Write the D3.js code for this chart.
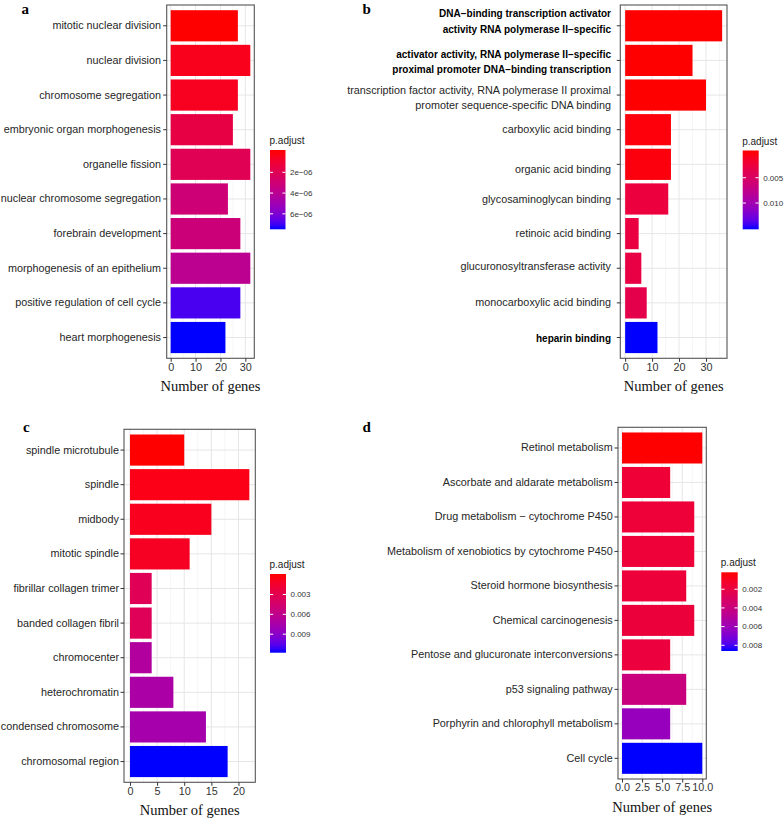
<!DOCTYPE html>
<html>
<head>
<meta charset="utf-8">
<script src="https://cdn.jsdelivr.net/npm/d3@7"></script>
<style>
body { margin: 0; background: #fff; }
svg { display: block; }
</style>
</head>
<body>
<div id="graphics"></div>
<script>
var width = 784, height = 821;

// a - biological process
var termsA = ['mitotic nuclear division', 'nuclear division', 'chromosome segregation',
  'embryonic organ morphogenesis', 'organelle fission', 'nuclear chromosome segregation',
  'forebrain development', 'morphogenesis of an epithelium', 'positive regulation of cell cycle',
  'heart morphogenesis'];
var countsA = [27, 32, 27, 25, 32, 23, 28, 32, 28, 22];
var padjA = [4.0e-8, 4.6e-7, 5.2e-7, 1.55e-6, 2.0e-6, 3.1e-6, 3.2e-6, 3.9e-6, 6.9e-6, 7.3e-6];
var ticksA = [0, 10, 20, 30];
var tickLabelsA = ['0', '10', '20', '30'];
var legendTicksA = [2e-6, 4e-6, 6e-6];
var legendLabelsA = ['2e\u221206', '4e\u221206', '6e\u221206'];

// b - molecular function
var termsB = ['DNA\u2212binding transcription activator\nactivity RNA polymerase II\u2212specific',
  'activator activity, RNA polymerase II\u2212specific\nproximal promoter DNA\u2212binding transcription',
  'transcription factor activity, RNA polymerase II proximal\npromoter sequence-specific DNA binding',
  'carboxylic acid binding', 'organic acid binding', 'glycosaminoglycan binding',
  'retinoic acid binding', 'glucuronosyltransferase activity', 'monocarboxylic acid binding',
  'heparin binding'];
var countsB = [36, 25, 30, 17, 17, 16, 5, 6, 8, 12];
var padjB = [1e-5, 2e-5, 3e-5, 3.0e-4, 3.2e-4, 2.6e-3, 2.8e-3, 3.0e-3, 3.5e-3, 1.48e-2];
var ticksB = [0, 10, 20, 30];
var tickLabelsB = ['0', '10', '20', '30'];
var legendTicksB = [0.005, 0.010];
var legendLabelsB = ['0.005', '0.010'];

// c - cellular component
var termsC = ['spindle microtubule', 'spindle', 'midbody', 'mitotic spindle',
  'fibrillar collagen trimer', 'banded collagen fibril', 'chromocenter', 'heterochromatin',
  'condensed chromosome', 'chromosomal region'];
var countsC = [10, 22, 15, 11, 4, 4, 4, 8, 14, 18];
var padjC = [2.0e-4, 6.5e-4, 9.0e-4, 1.1e-3, 3.3e-3, 3.4e-3, 6.9e-3, 7.3e-3, 7.6e-3, 1.15e-2];
var ticksC = [0, 5, 10, 15, 20];
var tickLabelsC = ['0', '5', '10', '15', '20'];
var legendTicksC = [0.003, 0.006, 0.009];
var legendLabelsC = ['0.003', '0.006', '0.009'];

// d - KEGG
var termsD = ['Retinol metabolism', 'Ascorbate and aldarate metabolism',
  'Drug metabolism \u2212 cytochrome P450', 'Metabolism of xenobiotics by cytochrome P450',
  'Steroid hormone biosynthesis', 'Chemical carcinogenesis',
  'Pentose and glucuronate interconversions', 'p53 signaling pathway',
  'Porphyrin and chlorophyll metabolism', 'Cell cycle'];
var countsD = [10, 6, 9, 9, 8, 9, 6, 8, 6, 10];
var padjD = [4.0e-4, 1.6e-3, 1.65e-3, 1.65e-3, 1.7e-3, 1.75e-3, 1.8e-3, 4.0e-3, 6.2e-3, 8.4e-3];
var ticksD = [0, 2.5, 5, 7.5, 10];
var tickLabelsD = ['0.0', '2.5', '5.0', '7.5', '10.0'];
var legendTicksD = [0.002, 0.004, 0.006, 0.008];
var legendLabelsD = ['0.002', '0.004', '0.006', '0.008'];

var sans = '"Liberation Sans", Arial, Helvetica, sans-serif';
var serif = '"Liberation Serif", "Times New Roman", Times, serif';

var svg = d3.select('#graphics')
  .append('svg')
  .attr('width', width)
  .attr('height', height)
  .style('font-family', sans);

var defs = svg.append('defs');

function drawPanel(p) {
  var g = svg.append('g');
  var n = p.terms.length;
  var maxCount = d3.max(p.counts);

  var x = d3.scaleLinear()
    .domain([-0.05 * maxCount, 1.05 * maxCount])
    .range([p.x0, p.x1]);
  var y = d3.scaleBand()
    .domain(d3.range(n))
    .range([p.y0, p.y1])
    .paddingInner(0.1)
    .paddingOuter(0.15);
  var color = d3.scaleLinear()
    .domain(d3.extent(p.padj))
    .range(['red', 'blue'])
    .interpolate(d3.interpolateLab);

  // grid
  var step = p.ticks[1] - p.ticks[0];
  var minor = d3.range(p.ticks[0] - step / 2, x.domain()[1], step)
    .filter(function(v) { return v > x.domain()[0]; });
  g.selectAll('.minor').data(minor).enter().append('line')
    .attr('x1', d => x(d)).attr('x2', d => x(d))
    .attr('y1', p.y0).attr('y2', p.y1)
    .attr('stroke', '#f0f0f0').attr('stroke-width', 0.6);
  g.selectAll('.majorx').data(p.ticks).enter().append('line')
    .attr('x1', d => x(d)).attr('x2', d => x(d))
    .attr('y1', p.y0).attr('y2', p.y1)
    .attr('stroke', '#e6e6e6').attr('stroke-width', 1);
  g.selectAll('.majory').data(d3.range(n)).enter().append('line')
    .attr('x1', p.x0).attr('x2', p.x1)
    .attr('y1', d => y(d) + y.bandwidth() / 2).attr('y2', d => y(d) + y.bandwidth() / 2)
    .attr('stroke', '#e6e6e6').attr('stroke-width', 1);

  // bars
  g.selectAll('.bar').data(p.counts).enter().append('rect')
    .attr('x', x(0))
    .attr('y', (d, i) => y(i))
    .attr('width', d => x(d) - x(0))
    .attr('height', y.bandwidth())
    .attr('fill', (d, i) => color(p.padj[i]));

  // border
  g.append('rect')
    .attr('x', p.x0).attr('y', p.y0)
    .attr('width', p.x1 - p.x0).attr('height', p.y1 - p.y0)
    .attr('fill', 'none').attr('stroke', '#555').attr('stroke-width', 1.1);

  // x axis
  var xAxis = g.append('g')
    .attr('transform', 'translate(0,' + p.y1 + ')')
    .call(d3.axisBottom(x).tickValues(p.ticks)
      .tickFormat((d, i) => p.tickLabels[i])
      .tickSize(3.5).tickPadding(1.2));
  xAxis.select('.domain').remove();
  xAxis.selectAll('line').attr('stroke', '#333');
  xAxis.selectAll('text')
    .attr('fill', '#333')
    .style('font-size', '10.8px')
    .style('font-family', sans);

  // y axis
  var yAxis = g.append('g')
    .attr('transform', 'translate(' + p.x0 + ',0)')
    .call(d3.axisLeft(y).tickFormat(i => p.terms[i])
      .tickSize(3.5).tickPadding(p.labelPad));
  yAxis.select('.domain').remove();
  yAxis.selectAll('line').attr('stroke', '#333');
  yAxis.selectAll('text')
    .attr('fill', '#262626')
    .style('font-size', '10.8px')
    .style('font-family', sans)
    .each(function(i) {
      var t = d3.select(this);
      var nudge = p.nudge ? p.nudge[i] : 0;
      t.attr('y', nudge);
      if (p.bold && p.bold.indexOf(i) >= 0) {
        t.attr('fill', '#000').style('font-weight', 'bold').style('font-size', '10px');
      }
      var lines = p.terms[i].split('\n');
      if (lines.length > 1) {
        var xx = t.attr('x');
        var lh = 15.5;
        t.text(null).attr('dy', null);
        lines.forEach(function(l, k) {
          t.append('tspan')
            .attr('x', xx)
            .attr('dy', k == 0 ? (0.32 * 11 - lh * (lines.length - 1) / 2) : lh)
            .text(l);
        });
      }
    });

  // axis title
  g.append('text')
    .attr('x', (p.x0 + p.x1) / 2)
    .attr('y', p.y1 + 33)
    .attr('text-anchor', 'middle')
    .style('font-family', serif)
    .style('font-size', '14.5px')
    .attr('fill', '#111')
    .text('Number of genes');

  // panel letter
  g.append('text')
    .attr('x', p.letterX).attr('y', p.letterY)
    .style('font-family', serif)
    .style('font-size', '15px')
    .style('font-weight', 'bold')
    .text(p.letter);

  // colour legend
  var inset = (p.ly1 - p.ly0) / 40;
  var ly = d3.scaleLinear()
    .domain(color.domain())
    .range([p.ly0 + inset, p.ly1 - inset]);
  var grad = defs.append('linearGradient')
    .attr('id', 'grad' + p.letter)
    .attr('x1', 0).attr('y1', 0).attr('x2', 0).attr('y2', 1);
  d3.range(21).forEach(function(k) {
    var v = ly.invert(p.ly0 + k / 20 * (p.ly1 - p.ly0));
    v = Math.max(color.domain()[0], Math.min(color.domain()[1], v));
    grad.append('stop').attr('offset', k / 20).attr('stop-color', color(v));
  });
  g.append('rect')
    .attr('x', p.lx).attr('y', p.ly0)
    .attr('width', p.lw).attr('height', p.ly1 - p.ly0)
    .attr('fill', 'url(#grad' + p.letter + ')');
  var lt = g.selectAll('.lt').data(p.legendTicks).enter();
  lt.append('line')
    .attr('x1', p.lx).attr('x2', p.lx + p.lw * 0.2)
    .attr('y1', d => ly(d)).attr('y2', d => ly(d))
    .attr('stroke', '#fff').attr('stroke-width', 1);
  lt.append('line')
    .attr('x1', p.lx + p.lw * 0.8).attr('x2', p.lx + p.lw)
    .attr('y1', d => ly(d)).attr('y2', d => ly(d))
    .attr('stroke', '#fff').attr('stroke-width', 1);
  lt.append('text')
    .attr('x', p.lx + p.lw + 4.5)
    .attr('y', d => ly(d))
    .attr('dy', '0.35em')
    .attr('fill', '#333')
    .style('font-size', '8px')
    .text((d, i) => p.legendLabels[i]);
  g.append('text')
    .attr('x', p.lx - 0.5).attr('y', p.ly0 - 6)
    .attr('fill', '#222')
    .style('font-size', '10px')
    .text('p.adjust');
}

drawPanel({letter: 'a', letterX: 21.5, letterY: 13.5,
  terms: termsA, counts: countsA, padj: padjA, ticks: ticksA, tickLabels: tickLabelsA,
  legendTicks: legendTicksA, legendLabels: legendLabelsA,
  x0: 166.7, x1: 254.3, y0: 5, y1: 358.3, labelPad: 2.2,
  lx: 270, lw: 15.5, ly0: 150, ly1: 229.3});

drawPanel({letter: 'b', letterX: 362.5, letterY: 13.5,
  terms: termsB, counts: countsB, padj: padjB, ticks: ticksB, tickLabels: tickLabelsB,
  legendTicks: legendTicksB, legendLabels: legendLabelsB,
  x0: 620.3, x1: 727, y0: 5, y1: 358.3, labelPad: 5.8,
  nudge: [-4.3, 1.5, 2.8, -0.3, 5, 1, 0, -1.3, 0, 1.6], bold: [0, 1, 9],
  lx: 742.7, lw: 16, ly0: 150.5, ly1: 229.3});

drawPanel({letter: 'c', letterX: 23, letterY: 431.7,
  terms: termsC, counts: countsC, padj: padjC, ticks: ticksC, tickLabels: tickLabelsC,
  legendTicks: legendTicksC, legendLabels: legendLabelsC,
  x0: 124, x1: 255.3, y0: 429.3, y1: 782.3, labelPad: 1.5,
  lx: 270, lw: 16, ly0: 574, ly1: 652.7});

drawPanel({letter: 'd', letterX: 362.5, letterY: 431.7,
  terms: termsD, counts: countsD, padj: padjD, ticks: ticksD, tickLabels: tickLabelsD,
  legendTicks: legendTicksD, legendLabels: legendLabelsD,
  x0: 618, x1: 706.3, y0: 427.3, y1: 779, labelPad: 1.8,
  lx: 721.3, lw: 16.4, ly0: 572.3, ly1: 651});
</script>
</body>
</html>
